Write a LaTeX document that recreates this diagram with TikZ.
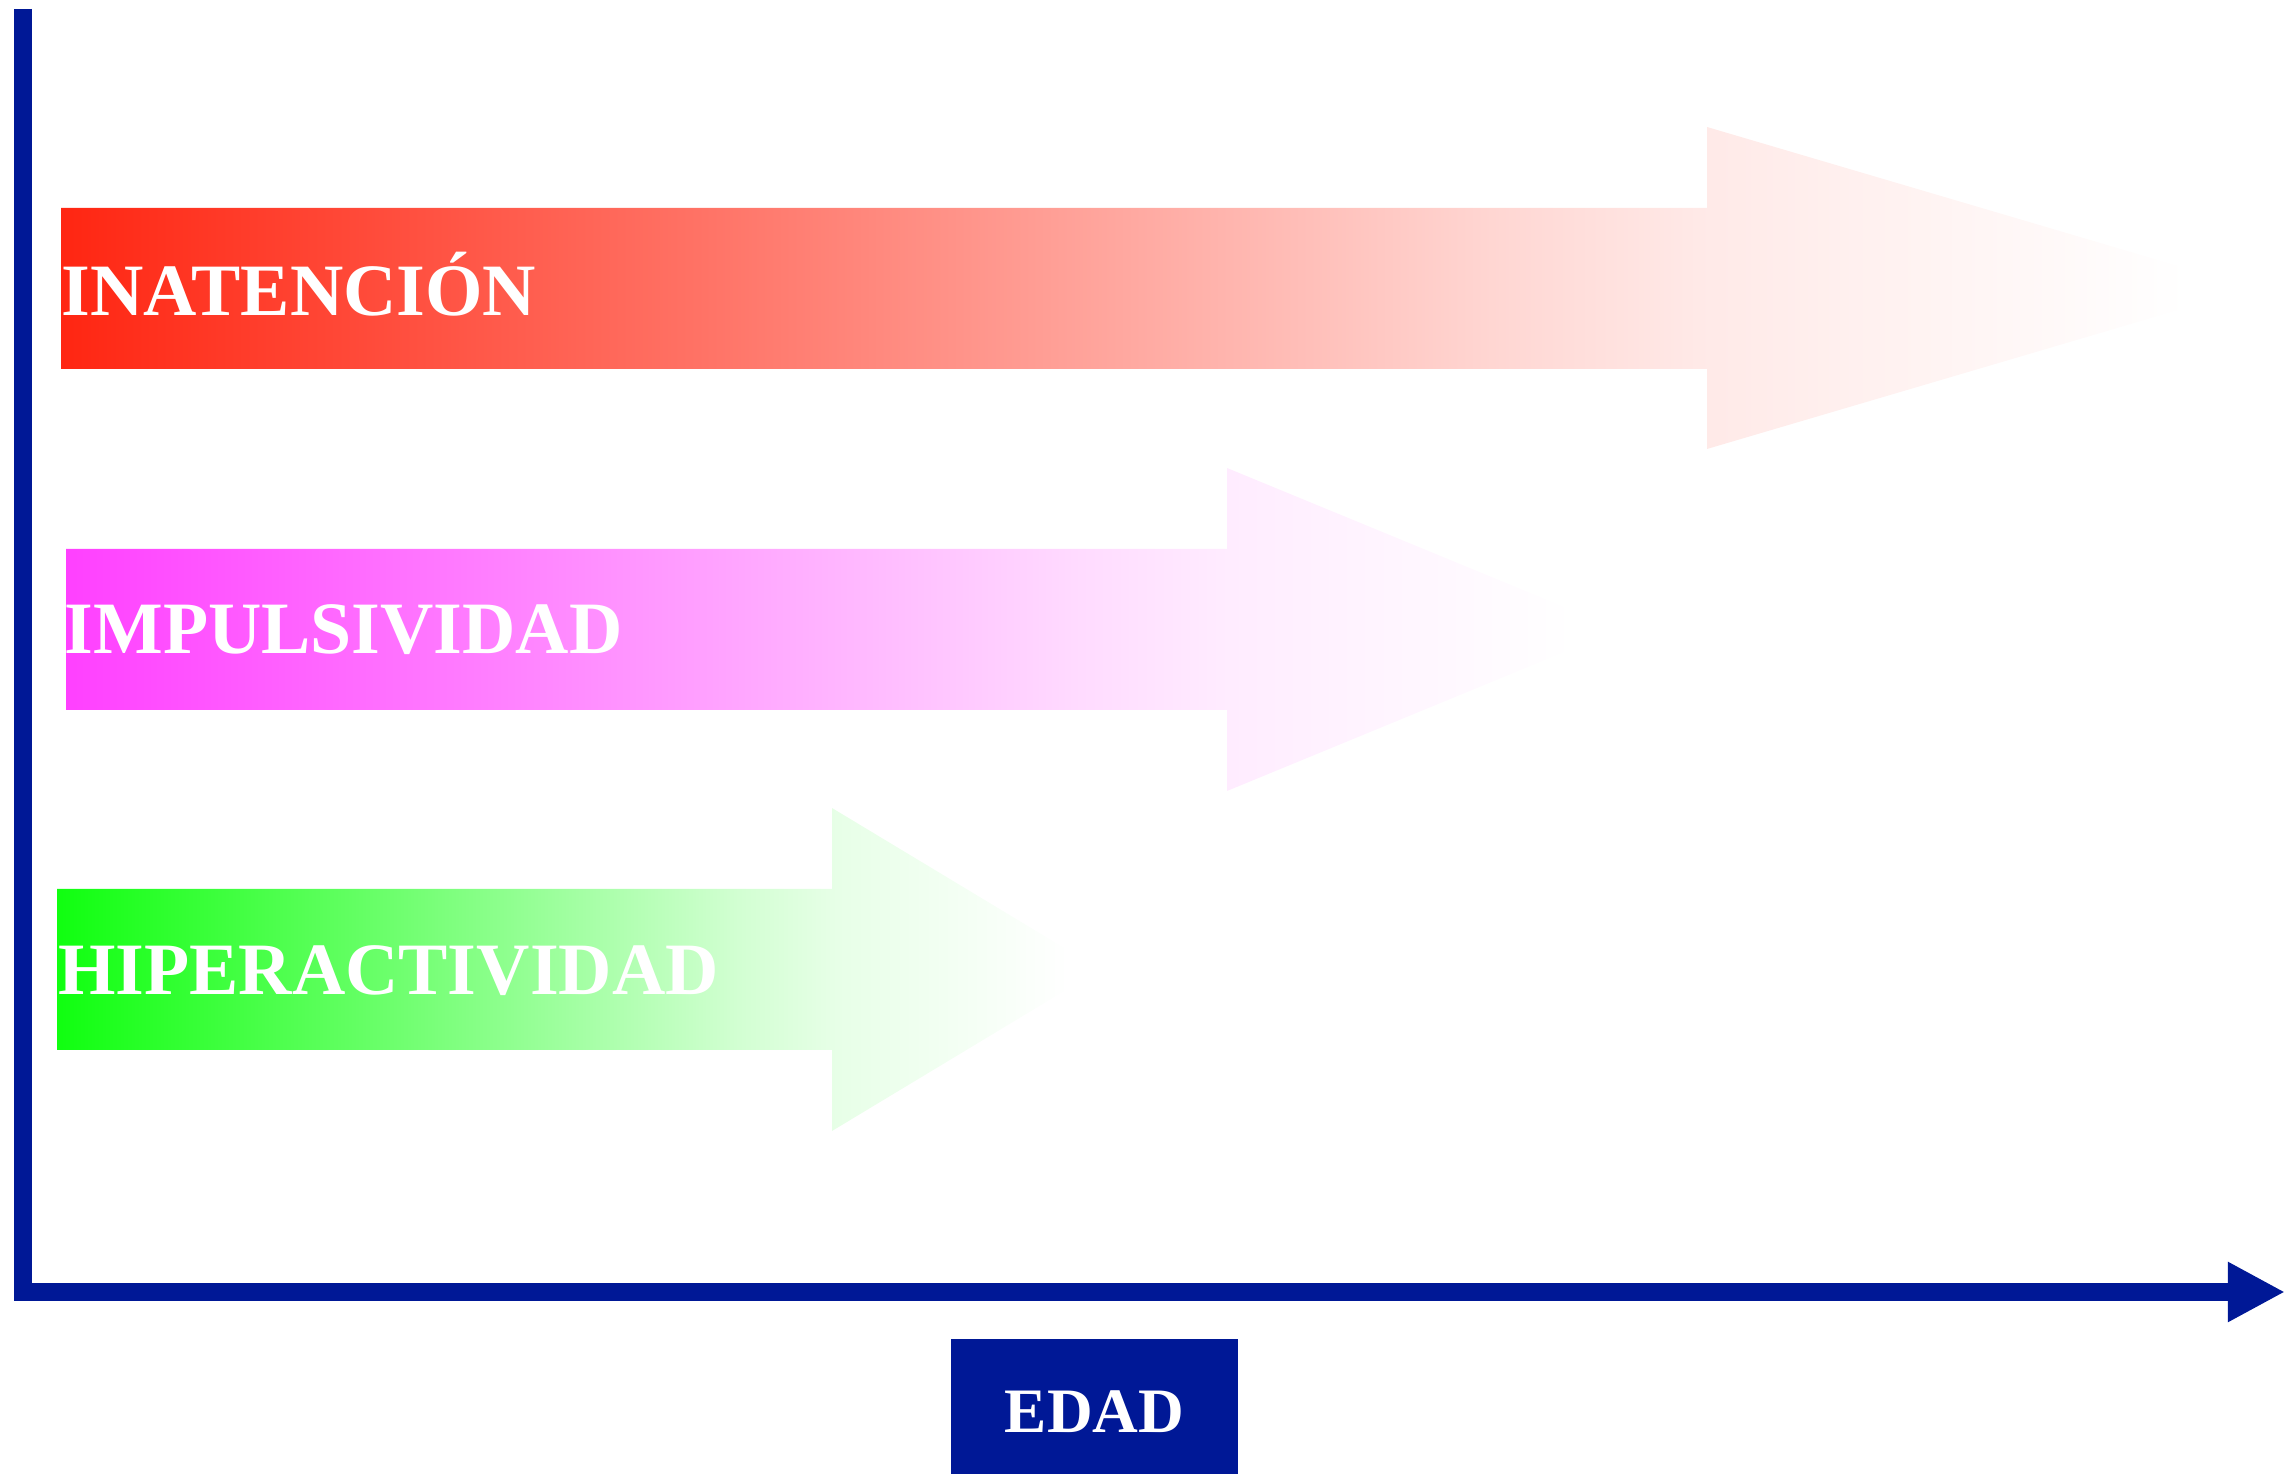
\documentclass[tikz,border=0pt]{standalone}
\usepackage{fontspec}
\setmainfont{Liberation Serif}
\usetikzlibrary{arrows.meta}
\definecolor{axisblue}{RGB}{0,24,150}
\definecolor{inatred}{RGB}{255,38,18}
\definecolor{impulsmag}{RGB}{255,64,255}
\definecolor{hipergreen}{RGB}{16,255,16}
\def\fadeshading#1#2{\pgfdeclarehorizontalshading{#1}{100bp}{color(0bp)=(#2); color(25bp)=(#2); color(39.5bp)=(#2!65); color(57.6bp)=(#2!19); color(62.4bp)=(#2!10); color(73.5bp)=(white); color(100bp)=(white)}}
\fadeshading{inatfade}{inatred}
\fadeshading{impulsfade}{impulsmag}
\fadeshading{hiperfade}{hipergreen}
\tikzset{
	barlabel/.style={text=white, inner sep=0pt, anchor=base west, font=\fontsize{21}{25}\selectfont\bfseries},
	edadbox/.style={fill=axisblue, text=white, inner sep=0pt, minimum width=2.87cm, minimum height=1.45cm, font=\fontsize{18}{22}\selectfont\bfseries}
}

\begin{document}
\begin{tikzpicture}[x=0.01cm, y=-0.01cm]
			%%%%% START %%%%%
			\useasboundingbox (0,0) rectangle (2296,1474);
			
			\shade[shading=inatfade] (61,208) -- (1707,208) -- (1707,127) -- (2253,288) -- (1707,449) -- (1707,369) -- (61,369) -- cycle;
			\node[barlabel] (inatencion) at (61,316) {INATENCIÓN};
			
			\shade[shading=impulsfade] (66,549) -- (1227,549) -- (1227,468) -- (1619,629.5) -- (1227,791) -- (1227,710) -- (66,710) -- cycle;
			\node[barlabel] (impulsividad) at (64,654) {IMPULSIVIDAD};
			
			\shade[shading=hiperfade] (57,889) -- (832,889) -- (832,808) -- (1100,969.5) -- (832,1131) -- (832,1050) -- (57,1050) -- cycle;
			\node[barlabel] (hiperactividad) at (57.5,995) {HIPERACTIVIDAD};
			
			\coordinate (ytop) at (23,9);
			\coordinate (origin) at (23,1292);
			\coordinate (xend) at (2285,1292);
			\draw[axisblue, line width=0.18cm, line join=miter, -{Triangle[length=0.57cm,width=0.56cm]}] (ytop) -- (origin) -- (xend);
			
			\node[edadbox] (edad) at (1094.5,1411.5) {EDAD};
			%%%%% END %%%%%
\end{tikzpicture}
\end{document}
